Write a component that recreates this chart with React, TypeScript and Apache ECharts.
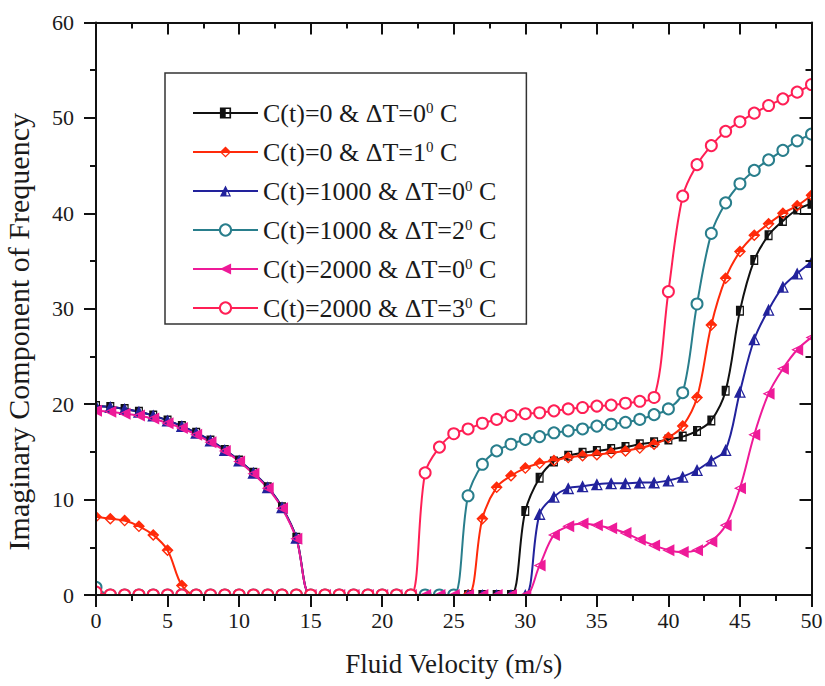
import React, { useEffect, useRef } from "react";
import * as echarts from "echarts";

// Fluid velocity (m/s) at which each curve was sampled
const velocity = [
  0, 1, 2, 3, 4, 5, 6, 7, 8, 9, 10, 11, 12, 13, 14, 15, 16, 17, 18, 19, 20, 21, 22, 23, 24, 25,
  26, 27, 28, 29, 30, 31, 32, 33, 34, 35, 36, 37, 38, 39, 40, 41, 42, 43, 44, 45, 46, 47, 48, 49, 50,
];

const c0dT0 = [
  19.8, 19.7, 19.5, 19.2, 18.8, 18.3, 17.7, 17.0, 16.2, 15.2, 14.1, 12.8, 11.3, 9.2, 6.0, 0, 0, 0, 0, 0, 0, 0, 0, 0, 0, 0,
  0, 0, 0, 0, 8.8, 12.3, 14.0, 14.6, 14.9, 15.1, 15.3, 15.5, 15.8, 16.0, 16.3, 16.6, 17.2, 18.3, 21.4, 29.8, 35.1, 37.7, 39.2, 40.4, 41.0,
];
const c0dT1 = [
  8.2, 8.0, 7.8, 7.2, 6.3, 4.7, 1.0, 0, 0, 0, 0, 0, 0, 0, 0, 0, 0, 0, 0, 0, 0, 0, 0, 0, 0, 0,
  0, 8.0, 11.3, 12.5, 13.3, 13.8, 14.1, 14.4, 14.6, 14.7, 14.9, 15.1, 15.4, 15.8, 16.5, 17.7, 20.7, 28.3, 33.2, 36.0, 37.7, 38.9, 40.0, 40.8, 41.9,
];
const c1000dT0 = [
  19.8, 19.7, 19.5, 19.2, 18.8, 18.3, 17.7, 17.0, 16.2, 15.2, 14.1, 12.8, 11.3, 9.2, 6.0, 0, 0, 0, 0, 0, 0, 0, 0, 0, 0, 0,
  0, 0, 0, 0, 0, 8.5, 10.3, 11.2, 11.4, 11.6, 11.7, 11.7, 11.8, 11.8, 12.0, 12.4, 13.1, 14.1, 15.2, 21.3, 26.8, 29.9, 32.3, 33.7, 34.9,
];
const c1000dT2 = [
  0.8, 0, 0, 0, 0, 0, 0, 0, 0, 0, 0, 0, 0, 0, 0, 0, 0, 0, 0, 0, 0, 0, 0, 0, 0, 0,
  10.4, 13.7, 15.1, 15.8, 16.3, 16.6, 17.0, 17.2, 17.4, 17.7, 17.9, 18.1, 18.4, 18.9, 19.5, 21.2, 30.5, 37.9, 41.1, 43.1, 44.5, 45.6, 46.6, 47.6, 48.3,
];
const c2000dT0 = [
  19.3, 19.2, 19.0, 18.8, 18.5, 18.0, 17.5, 16.8, 16.0, 15.1, 14.0, 12.7, 11.2, 9.1, 5.9, 0, 0, 0, 0, 0, 0, 0, 0, 0, 0, 0,
  0, 0, 0, 0, 0, 3.1, 6.3, 7.2, 7.5, 7.3, 7.0, 6.5, 5.8, 5.2, 4.7, 4.5, 4.7, 5.6, 7.3, 11.2, 16.8, 21.1, 23.7, 25.7, 27.0,
];
const c2000dT3 = [
  0.3, 0, 0, 0, 0, 0, 0, 0, 0, 0, 0, 0, 0, 0, 0, 0, 0, 0, 0, 0, 0, 0, 0, 12.8, 15.5, 16.9,
  17.4, 18.0, 18.4, 18.8, 19.0, 19.1, 19.3, 19.5, 19.65, 19.8, 19.9, 20.1, 20.3, 20.7, 31.8, 41.8, 45.1, 47.1, 48.6, 49.6, 50.5, 51.3, 52.0, 52.7, 53.5,
];

const seriesNames = [
  "C(t)=0 & ΔT=0",
  "C(t)=0 & ΔT=1",
  "C(t)=1000 & ΔT=0",
  "C(t)=1000 & ΔT=2",
  "C(t)=2000 & ΔT=0",
  "C(t)=2000 & ΔT=3",
];
const seriesValues = [c0dT0, c0dT1, c1000dT0, c1000dT2, c2000dT0, c2000dT3];
const seriesColors = ["#111111", "#ff2a0a", "#22229c", "#297e8c", "#ee1a98", "#ff1f55"];

const xTicks = { min: 0, max: 50, interval: 5 };
const yTicks = { min: 0, max: 60, interval: 10 };

// half-filled marker shapes (outer outline + hole wound the other way)
const halfSquare = "path://M0,0H10V10H0Z M5.2,1.5V8.5H8.5V1.5Z";
const halfDiamond = "path://M5,0L10,5L5,10L0,5Z M2.2,5.6L5,8.4L7.8,5.6Z";
const halfTriangle = "path://M5,0L10,10L0,10Z M5.8,3.8L5.8,8.9L8.3,8.9Z";
const halfLeftTriangle = "path://M0,5L10,0L10,10Z M2.2,5L4.2,6L4.2,4Z";
const symbols = [halfSquare, halfDiamond, halfTriangle, "emptyCircle", halfLeftTriangle, "emptyCircle"];
const symbolSizes: (number | number[])[] = [[8, 10], 12, 12, 11, 12, 11];

const FONT = "'Liberation Serif', 'Times New Roman', serif";

// plot frame in pixels
const G = { left: 96, right: 13.5, top: 22.5, bottom: 91 };
const W = 825;
const H = 686;

export default function App() {
  const ref = useRef<HTMLDivElement>(null);
  useEffect(() => {
    if (!ref.current) return;
    const chart = echarts.init(ref.current, undefined, { renderer: "svg" });
    const axisLine = { show: true, onZero: false, lineStyle: { color: "#111", width: 2 } };
    const tick = (inside: boolean) => ({
      axisTick: { show: true, inside, length: 12, lineStyle: { color: "#111", width: 2 } },
      minorTick: { show: true, splitNumber: 2, length: 6, lineStyle: { color: "#111", width: 2 } },
    });
    const baseX = {
      type: "value" as const,
      min: xTicks.min,
      max: xTicks.max,
      interval: xTicks.interval,
      splitLine: { show: false },
      minorSplitLine: { show: false },
      axisLine,
      z: 10,
    };
    const baseY = {
      type: "value" as const,
      min: yTicks.min,
      max: yTicks.max,
      interval: yTicks.interval,
      splitLine: { show: false },
      minorSplitLine: { show: false },
      axisLine,
      z: 10,
    };
    const plotRight = W - G.right;
    const plotBottom = H - G.bottom;
    chart.setOption({
      animation: false,
      backgroundColor: "#ffffff",
      grid: { ...G, containLabel: false, outerBoundsMode: "none" },
      // white masks so markers sitting on the frame are cut at the frame, as in the original
      graphic: [
        { type: "rect", z: 5, silent: true, shape: { x: G.left - 12, y: plotBottom + 1, width: plotRight - G.left + 24, height: 9 }, style: { fill: "#fff" } },
        { type: "rect", z: 5, silent: true, shape: { x: G.left - 10, y: G.top, width: 9, height: plotBottom - G.top + 10 }, style: { fill: "#fff" } },
        { type: "rect", z: 5, silent: true, shape: { x: plotRight + 1, y: G.top, width: 12, height: plotBottom - G.top + 10 }, style: { fill: "#fff" } },
      ],
      xAxis: [
        {
          ...baseX,
          position: "bottom",
          ...tick(false),
          axisLabel: { fontFamily: FONT, fontSize: 22, color: "#1a1a1a", margin: 14 },
          name: "Fluid Velocity (m/s)",
          nameLocation: "middle",
          nameGap: 55,
          nameTextStyle: { fontFamily: FONT, fontSize: 27, color: "#1a1a1a" },
        },
        {
          ...baseX,
          position: "top",
          ...tick(true),
          axisLabel: { show: false },
        },
      ],
      yAxis: [
        {
          ...baseY,
          position: "left",
          ...tick(false),
          axisLabel: { fontFamily: FONT, fontSize: 22, color: "#1a1a1a", margin: 22 },
          name: "Imaginary Component of Frequency",
          nameLocation: "middle",
          nameGap: 63,
          nameTextStyle: { fontFamily: FONT, fontSize: 30, color: "#1a1a1a", padding: [0, 46, 0, 0] },
        },
        {
          ...baseY,
          position: "right",
          ...tick(true),
          axisLabel: { show: false },
        },
      ],
      legend: {
        orient: "vertical",
        left: 165,
        top: 73,
        padding: [27, 30, 3, 27],
        itemWidth: 65,
        itemHeight: 14,
        itemGap: 13,
        borderColor: "#333",
        borderWidth: 1.5,
        backgroundColor: "#ffffff",
        selectedMode: false,
        z: 20,
        data: seriesNames,
        formatter: (name: string) => `{n|${name}}{sup|0}{n| C}`,
        textStyle: {
          fontFamily: FONT,
          fontSize: 26,
          color: "#1a1a1a",
          rich: {
            n: { fontFamily: FONT, fontSize: 26, color: "#1a1a1a", verticalAlign: "bottom" },
            sup: { fontFamily: FONT, fontSize: 15, color: "#1a1a1a", verticalAlign: "top" },
          },
        },
      },
      series: seriesNames.map((name, i) => ({
        name,
        type: "line",
        xAxisIndex: 0,
        yAxisIndex: 0,
        data: velocity.map((v, k) => [v, seriesValues[i][k]]),
        smooth: 0.35,
        symbol: symbols[i],
        symbolSize: symbolSizes[i],
        showAllSymbol: true,
        lineStyle: { color: seriesColors[i], width: 2 },
        itemStyle:
          symbols[i] === "emptyCircle"
            ? { color: seriesColors[i], borderColor: seriesColors[i], borderWidth: 1.5 }
            : { color: seriesColors[i], borderWidth: 0 },
        clip: true,
      })),
    });
    return () => chart.dispose();
  }, []);
  return (
    <div
      ref={ref}
      style={{ position: "fixed", left: 0, top: 0, width: W, height: H, background: "#fff" }}
    />
  );
}
